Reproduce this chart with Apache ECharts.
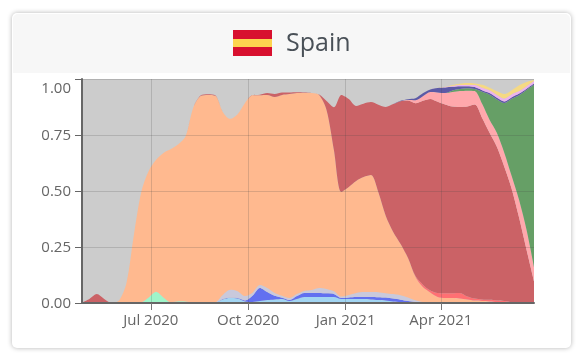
<!DOCTYPE html>
<html>
<head>
<meta charset="utf-8">
<style>html,body{margin:0;padding:0;background:#fff}#c{width:582px;height:364px}</style>
<script src="https://cdn.jsdelivr.net/npm/echarts@6/dist/echarts.min.js"></script>
</head>
<body>
<div id="c"></div>
<script>
// weekly samples
var dates = [
  '2020-04-27','2020-05-04','2020-05-11','2020-05-18','2020-05-25','2020-06-01','2020-06-08','2020-06-15','2020-06-22','2020-06-29',
  '2020-07-06','2020-07-13','2020-07-20','2020-07-27','2020-08-03','2020-08-10','2020-08-17','2020-08-24','2020-08-31','2020-09-07',
  '2020-09-14','2020-09-21','2020-09-28','2020-10-05','2020-10-12','2020-10-19','2020-10-26','2020-11-02','2020-11-09','2020-11-16',
  '2020-11-23','2020-11-30','2020-12-07','2020-12-14','2020-12-21','2020-12-28','2021-01-04','2021-01-11','2021-01-18','2021-01-25',
  '2021-02-01','2021-02-08','2021-02-15','2021-02-22','2021-03-01','2021-03-08','2021-03-15','2021-03-22','2021-03-29','2021-04-05',
  '2021-04-12','2021-04-19','2021-04-26','2021-05-03','2021-05-10','2021-05-17','2021-05-24','2021-05-31','2021-06-07','2021-06-14',
  '2021-06-21','2021-06-28'
];
var lightBlue = [
  0,0,0,0,0,0,0,0,0,0,
  0,0,0,0,0,0,0,0,.001,.016,
  .022,.02,.007,.005,.009,.013,.016,.018,.009,.018,
  .027,.027,.027,.027,.027,.018,.018,.018,.018,.016,
  .013,.011,.007,.004,.002,.001,0,0,0,0,
  0,0,0,0,0,0,0,0,0,0,
  0,0
];
var blue = [
  0,0,0,0,0,0,0,0,0,0,
  0,0,0,0,0,0,0,0,0,.002,
  .001,.002,.004,.027,.058,.036,.016,.005,.004,.013,
  .018,.018,.018,.016,.013,.004,.007,.009,.009,.011,
  .013,.013,.013,.011,.007,.004,.001,0,0,0,
  0,0,0,0,0,0,0,0,0,0,
  0,0
];
var grayBlue = [
  0,0,0,0,0,0,0,0,0,0,
  0,0,0,0,0,0,0,0,.002,.018,
  .036,.031,.02,.013,.013,.018,.013,.009,.009,.009,
  .009,.013,.022,.02,.013,.007,.011,.018,.022,.022,
  .022,.02,.02,.02,.016,.007,.003,.001,0,0,
  0,0,0,0,0,0,0,0,0,0,
  0,0
];
var mint = [
  0,0,0,0,0,0,0,0,.003,.025,
  .05,.025,.004,.008,.007,.003,.002,0,0,0,
  0,0,0,0,0,0,0,0,0,0,
  0,0,0,0,0,0,0,0,0,0,
  0,0,0,0,0,0,0,0,0,0,
  0,0,0,0,0,0,0,0,0,0,
  0,0
];
var earlyRed = [
  .002,.018,.04,.018,0,0,0,0,0,0,
  0,0,0,0,0,0,0,0,0,0,
  0,0,0,0,0,0,0,0,0,0,
  0,0,0,0,0,0,0,0,0,0,
  0,0,0,0,0,0,0,0,0,0,
  0,0,0,0,0,0,0,0,0,0,
  0,0
];
var orange = [
  0,0,0,0,0,.011,.089,.304,.493,.564,
  .589,.645,.683,.701,.739,.868,.922,.929,.922,.817,
  .763,.79,.862,.882,.848,.862,.875,.897,.911,.897,
  .884,.879,.862,.799,.629,.467,.482,.5,.513,.522,
  .446,.344,.277,.228,.176,.105,.067,.046,.027,.022,
  .022,.02,.016,.011,.009,.007,.004,.003,.001,0,
  0,0
];
var brightRed = [
  0,0,0,0,0,0,0,0,0,0,
  0,0,0,0,0,0,0,0,0,0,
  0,0,0,0,0,0,0,0,0,0,
  0,0,0,0,0,0,0,0,0,0,
  0,0,0,0,0,.003,.011,.009,.018,.022,
  .022,.025,.013,.009,.007,.007,.007,.006,.003,.002,
  .001,0
];
var darkRed = [
  0,0,0,0,0,0,0,0,0,0,
  0,0,0,0,0,0,.002,.003,.002,0,
  0,0,0,0,.002,.008,.013,.011,.007,.004,
  .002,.001,.002,.04,.192,.433,.393,.335,.328,.326,
  .391,.487,.571,.638,.703,.772,.821,.855,.853,.842,
  .833,.83,.848,.866,.81,.746,.685,.598,.504,.377,
  .236,.098
];
var pink = [
  0,0,0,0,0,0,0,0,0,0,
  0,0,0,0,0,0,0,0,0,0,
  0,0,0,0,0,0,0,0,0,0,
  0,0,0,0,0,0,0,0,0,0,
  0,0,0,0,.002,.013,.02,.031,.042,.051,
  .065,.071,.071,.06,.063,.058,.063,.063,.058,.08,
  .089,.063
];
var green = [
  0,0,0,0,0,0,0,0,0,0,
  0,0,0,0,0,0,0,0,0,0,
  0,0,0,0,0,0,0,0,0,0,
  0,0,0,0,0,0,0,0,0,0,
  0,0,0,0,0,0,0,0,0,0,
  .007,.009,.011,.009,.054,.112,.15,.223,.346,.469,
  .625,.813
];
var purple = [
  0,0,0,0,0,0,0,0,0,0,
  0,0,0,0,0,0,0,0,0,0,
  0,0,0,0,0,0,0,0,0,0,
  0,0,0,0,0,0,0,0,0,0,
  0,0,0,.002,.004,.009,.013,.011,.02,.025,
  .016,.013,.009,.009,.007,.007,.007,.007,.007,.007,
  .006,.006
];
var violet = [
  0,0,0,0,0,0,0,0,0,0,
  0,0,0,0,0,0,0,0,0,0,
  0,0,0,0,0,0,0,0,0,0,
  0,0,0,0,0,0,0,0,0,0,
  0,0,0,0,0,0,0,0,0,.002,
  .004,.005,.005,.009,.011,.013,.013,.013,.013,.011,
  .011,.011
];
var yellow = [
  0,0,0,0,0,0,0,0,0,0,
  0,0,0,0,0,0,0,0,0,0,
  0,0,0,0,0,0,0,0,0,0,
  0,0,0,0,0,0,0,0,0,0,
  0,0,0,0,0,0,0,0,0,.001,
  .004,.006,.009,.007,.013,.011,.016,.02,.018,.026,
  .019,.005
];
var xTicks = ['2020-07-01','2020-10-01','2021-01-01','2021-04-01'];
var xLabels = ['Jul 2020','Oct 2020','Jan 2021','Apr 2021'];
var yTicks = [0,0.25,0.5,0.75,1];

var layers = [
  [lightBlue,'#a2d5f2'],[blue,'#6270f0'],[grayBlue,'#c9c9dc'],[mint,'#9ff5c9'],[earlyRed,'#cb6266'],
  [orange,'#ffb98f'],[brightRed,'#ff7073'],[darkRed,'#cb6266'],[pink,'#ffa8ac'],[green,'#669f66'],
  [purple,'#5c5aa6'],[violet,'#ecb2ee'],[yellow,'#f5d983']
];
function ms(d){return +new Date(d+'T00:00:00Z');}
var tickTimes = xTicks.map(ms);
var xMin = ms(dates[0]), xMax = ms(dates[dates.length-1]);

var chart = echarts.init(document.getElementById('c'));
chart.setOption({
  animation:false,
  textStyle:{fontFamily:'"Open Sans"'},
  title:{text:'Spain',left:281,top:26,textStyle:{fontFamily:'"Open Sans"',fontSize:25,fontWeight:400,color:'#495057'}},
  graphic:[
    {type:'rect',z:-10,shape:{x:12,y:13,width:559,height:335,r:5},style:{fill:'#fff',shadowBlur:5,shadowColor:'rgba(0,0,0,.3)'}},
    {type:'rect',z:-9,shape:{x:13,y:14,width:557,height:59,r:[5,5,0,0]},style:{fill:'#f7f7f7'}},
    {type:'rect',z:-8,shape:{x:233,y:30,width:39,height:26},style:{fill:'#d8102f'}},
    {type:'rect',z:-7,shape:{x:233,y:39,width:39,height:8},style:{fill:'#fdd44f'}}
  ],
  grid:{left:82,right:48,top:79,bottom:61,show:true,backgroundColor:'#cccccc',borderWidth:0},
  // time axis carries the stacked series, value axis on the same extent draws the quarter ticks
  xAxis:[
    {type:'time',min:xMin,max:xMax,axisLine:{show:false},axisTick:{show:false},axisLabel:{show:false},splitLine:{show:false}},
    {
      type:'value',z:5,position:'bottom',min:xMin,max:xMax,
      axisLine:{lineStyle:{color:'#666',width:2}},
      axisTick:{length:7,customValues:tickTimes,lineStyle:{color:'#777',width:1}},
      axisLabel:{customValues:tickTimes,fontSize:15,color:'#666',margin:10,hideOverlap:false,
        formatter:function(v){return xLabels[tickTimes.indexOf(+v)]||'';}},
      splitLine:{show:true,lineStyle:{color:'rgba(70,70,70,.2)',width:1}}
    }
  ],
  yAxis:{
    type:'value',z:5,min:0,max:1,interval:0.25,
    axisLine:{show:true,lineStyle:{color:'#666',width:2}},
    axisTick:{show:true,length:7,lineStyle:{color:'#666',width:1}},
    axisLabel:{fontSize:15,color:'#666',margin:11,padding:[2,0,0,0],
      formatter:function(v){return v===yTicks[4]?'{top|1.00}':v.toFixed(2);},
      rich:{top:{fontSize:15,color:'#666',padding:[18,0,0,0]}}},
    splitLine:{show:true,lineStyle:{color:'rgba(70,70,70,.2)',width:1}}
  },
  series:layers.map(function(l){
    return {
      type:'line',xAxisIndex:0,stack:'all',smooth:0.3,showSymbol:false,
      lineStyle:{width:0},areaStyle:{color:l[1],opacity:1},itemStyle:{color:l[1]},
      data:dates.map(function(d,i){return [ms(d),l[0][i]];})
    };
  })
});
</script>
</body>
</html>
